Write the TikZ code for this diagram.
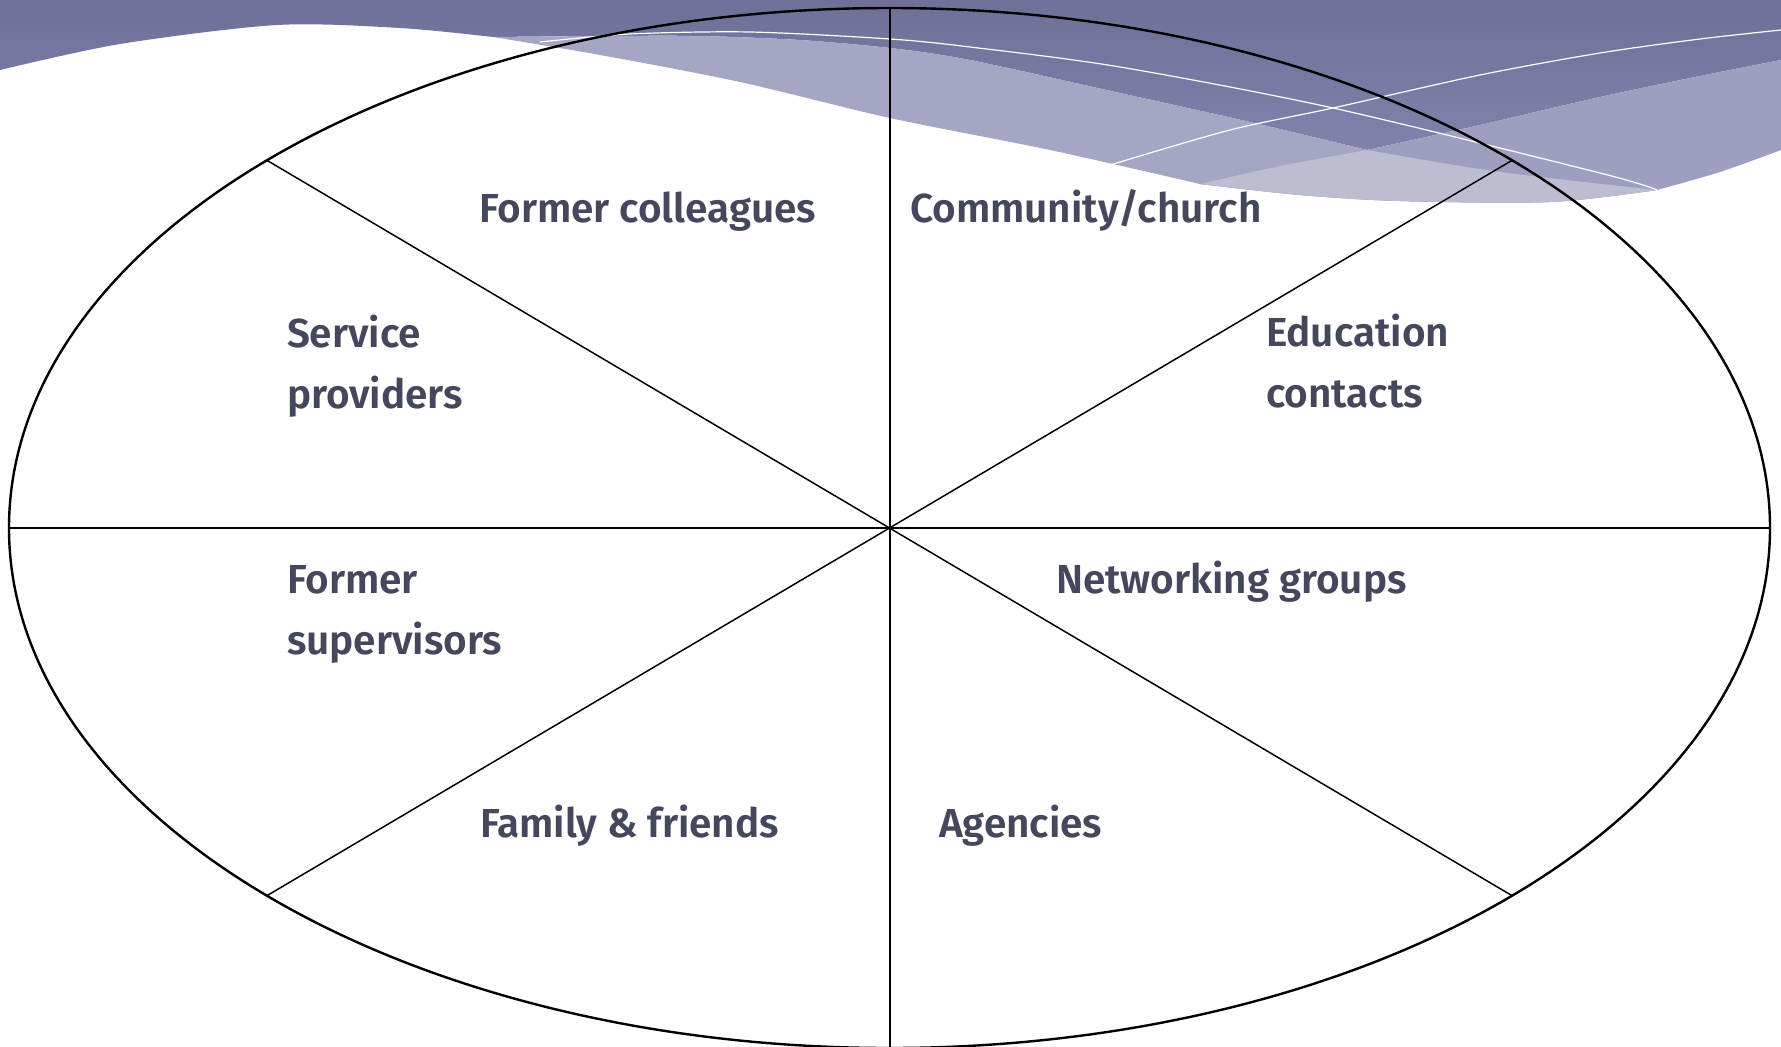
\documentclass[tikz,border=0pt]{standalone}
\usepackage{fontspec}
\setmainfont{Fira Sans}
\newfontfamily\lblfont{Fira Sans SemiBold}
\usetikzlibrary{shapes.geometric}
\definecolor{txt}{HTML}{45485C}
\definecolor{bandtop}{HTML}{6E7098}
\definecolor{bandbot}{HTML}{8082AC}
\definecolor{wavea}{HTML}{A5A6C4}
\definecolor{waveb}{HTML}{9E9FC0}
\definecolor{wavepale}{HTML}{BCBDD1}
\begin{document}
\begin{tikzpicture}[x=1pt,y=-1pt,
  lbl/.style={font=\lblfont\fontsize{40.5}{61}\selectfont, text=txt, inner sep=0pt, outer sep=0pt, anchor=base west, align=left},
  spoke/.style={draw=black, line width=1.5pt},
  axis/.style={draw=black, line width=2pt},
  wline/.style={draw=white, line width=1.2pt}]
\useasboundingbox (0,0) rectangle (1781,1047);
\fill[white] (0,0) rectangle (1781,1047);
% dark band
\shade[top color=bandtop, bottom color=bandbot]
  (0,0) -- (1781,0) -- (1781,60)
  -- plot[smooth] coordinates {(1781,60) (1700,76) (1600,97) (1480,125) (1367,150)}
  -- plot[smooth] coordinates {(1367,150) (1250,122) (1120,93) (970,60) (890,48) (800,40) (700,36) (600,36) (493,37)}
  -- plot[smooth] coordinates {(493,37) (400,28) (277,25) (120,44) (0,70)}
  -- cycle;
% wave A
\fill[wavea]
  plot[smooth] coordinates {(493,37) (600,36) (700,36) (800,40) (890,48) (970,60) (1120,93) (1250,122) (1367,150)}
  -- plot[smooth] coordinates {(1367,150) (1500,172) (1657,190)}
  -- plot[smooth] coordinates {(1657,190) (1550,202) (1400,201) (1300,195) (1200,184)}
  -- plot[smooth] coordinates {(1200,184) (1050,150) (890,118) (740,82) (600,55) (493,37)}
  -- cycle;
% wave B
\fill[waveb]
  plot[smooth] coordinates {(1200,184) (1280,166) (1367,150)}
  -- plot[smooth] coordinates {(1367,150) (1480,125) (1600,97) (1700,76) (1781,60)}
  -- (1781,150)
  -- plot[smooth] coordinates {(1781,150) (1720,172) (1657,190)}
  -- plot[smooth] coordinates {(1657,190) (1550,202) (1400,201) (1300,195) (1200,184)}
  -- cycle;
% overlap
\fill[wavepale]
  plot[smooth] coordinates {(1200,184) (1280,166) (1367,150)}
  -- plot[smooth] coordinates {(1367,150) (1500,172) (1657,190)}
  -- plot[smooth] coordinates {(1657,190) (1550,202) (1400,201) (1300,195) (1200,184)}
  -- cycle;
% white lines
\draw[wline] plot[smooth] coordinates {(540,42) (630,34) (750,32) (890,39) (970,47) (1120,67) (1333,108) (1600,173) (1657,190)};
\draw[wline] plot[smooth] coordinates {(1110,165) (1230,130) (1333,108) (1480,75) (1600,53) (1700,39) (1781,30)};
% ellipse
\node[ellipse, draw=black, line width=2.4pt, minimum width=1761pt, minimum height=1040pt, inner sep=0pt, outer sep=0pt] (ov) at (889.5,528) {};
\coordinate (ne) at (1512.1,160.3);
\coordinate (nw) at (266.9,160.3);
\coordinate (sw) at (266.9,895.7);
\coordinate (se) at (1512.1,895.7);
\draw[axis] (ov.north) -- (ov.south);
\draw[axis] (ov.west) -- (ov.east);
\draw[spoke] (ne) -- (sw);
\draw[spoke] (nw) -- (se);
% labels
\node[lbl] (fc) at (479,222) {Former colleagues};
\node[lbl] (cc) at (910,222) {Community/church};
\node[lbl] (sp) at (287,408) {Service\\providers};
\node[lbl] (ec) at (1266,407) {Education\\contacts};
\node[lbl] (fs) at (287,654) {Former\\supervisors};
\node[lbl] (ng) at (1056,593) {Networking groups};
\node[lbl] (ff) at (480,837) {Family \& friends};
\node[lbl] (ag) at (939,837) {Agencies};
\end{tikzpicture}
\end{document}
